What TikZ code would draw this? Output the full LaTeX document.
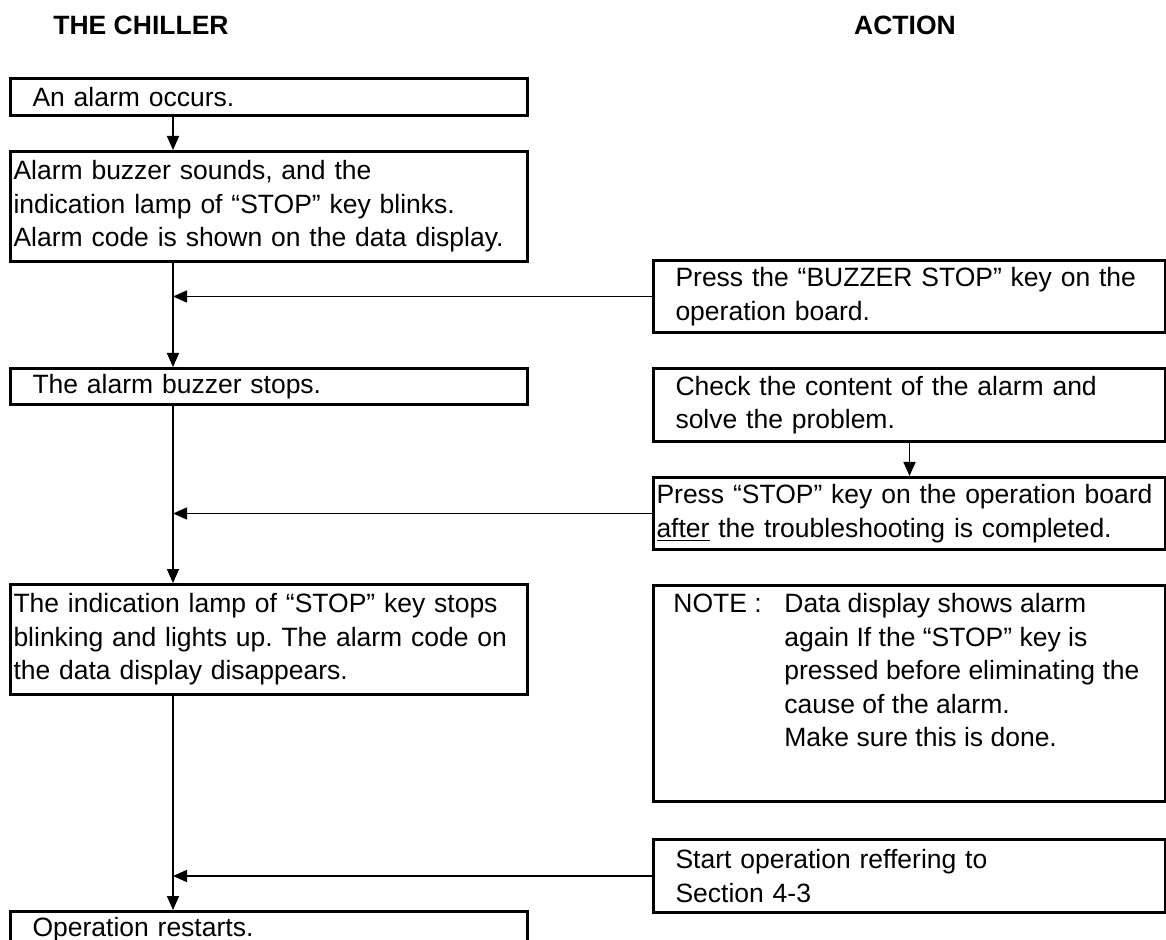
\documentclass[tikz,border=0pt]{standalone}
\usepackage{fontspec}
\setmainfont{Liberation Sans}
\usepackage{tikz}
\usetikzlibrary{calc}
\usetikzlibrary{positioning}
\usetikzlibrary{arrows.meta}
\frenchspacing
\newcommand{\padleft}{\hspace*{9.5pt}}

\begin{document}
\begin{tikzpicture}[x=0.5pt, y=-0.5pt,
    font=\fontsize{13.25pt}{16.75pt}\selectfont,
    head/.style={font=\fontsize{13.25pt}{16.75pt}\selectfont\bfseries, inner sep=0pt},
    box/.style={draw, line width=1.5pt, anchor=north west, align=left, inner ysep=0pt, inner xsep=1.5pt},
    lbox/.style={box, minimum width=258.5pt, text width=255.5pt},
    rbox/.style={box, minimum width=256pt, text width=253pt},
    arr/.style={-{Triangle[length=7pt, width=6pt]}, line width=0.8pt}]

    % 1. Fix the page to the size of the reference
    \useasboundingbox (0,0) rectangle (1166,940);

    % 2. Column headings
    \node[head, anchor=base west] (chiller) at (53,35) {THE CHILLER};
    \node[head, anchor=base] (action) at (905,35) {ACTION};

    % 3. Left column: what the chiller does
    \node[lbox, minimum height=18.5pt] (occurs) at (9,77) {\padleft An alarm occurs.};
    \node[lbox, minimum height=55pt] (sounds) at (9,150) {Alarm buzzer sounds, and the\\ indication lamp of “STOP” key blinks.\\ Alarm code is shown on the data display.};
    \node[lbox, minimum height=18pt] (stops) at (9,367) {\padleft The alarm buzzer stops.};
    \node[lbox, minimum height=55pt] (lampoff) at (9,583) {The indication lamp of “STOP” key stops\\ blinking and lights up. The alarm code on\\ the data display disappears.};
    \node[lbox, minimum height=18.5pt] (restart) at (9,910) {\padleft Operation restarts.};

    % 4. Right column: what the operator does
    \node[rbox, minimum height=36pt] (buzzstop) at (652,259) {\padleft Press the “BUZZER STOP” key on the\\ \padleft operation board.};
    \node[rbox, minimum height=36.5pt] (check) at (652,367) {\padleft Check the content of the alarm and\\ \padleft solve the problem.};
    \node[rbox, minimum height=36pt] (reset) at (652,476) {Press “STOP” key on the operation board\\ \underline{after} the troubleshooting is completed.};
    \node[rbox, minimum height=108pt] (note) at (652,584) {};
    \node[anchor=north west, inner sep=0pt] (notetext) at ($(note.north west)+(21,5)$) {%
        \begin{tabular}{@{}p{55.5pt}@{}l@{}}
        NOTE : & Data display shows alarm\\
               & again If the “STOP” key is\\
               & pressed before eliminating the\\
               & cause of the alarm.\\
               & Make sure this is done.
        \end{tabular}};
    \node[rbox, minimum height=36.5pt] (startop) at (652,838) {\padleft Start operation reffering to\\ \padleft Section 4-3};

    % 5. The main line on the left, with the actions feeding into it
    \coordinate (spine) at (173,0);
    \draw[arr] (occurs.south -| spine) -- (sounds.north -| spine);
    \draw[arr] (sounds.south -| spine) -- (stops.north -| spine);
    \draw[arr] (stops.south -| spine) -- (lampoff.north -| spine);
    \draw[arr] (lampoff.south -| spine) -- (restart.north -| spine);

    \draw[arr] (buzzstop.west) -- (buzzstop.west -| spine);
    \draw[arr] (check.south) -- (reset.north);
    \draw[arr] (reset.west) -- (reset.west -| spine);
    \draw[arr] (startop.west) -- (startop.west -| spine);
\end{tikzpicture}
\end{document}
